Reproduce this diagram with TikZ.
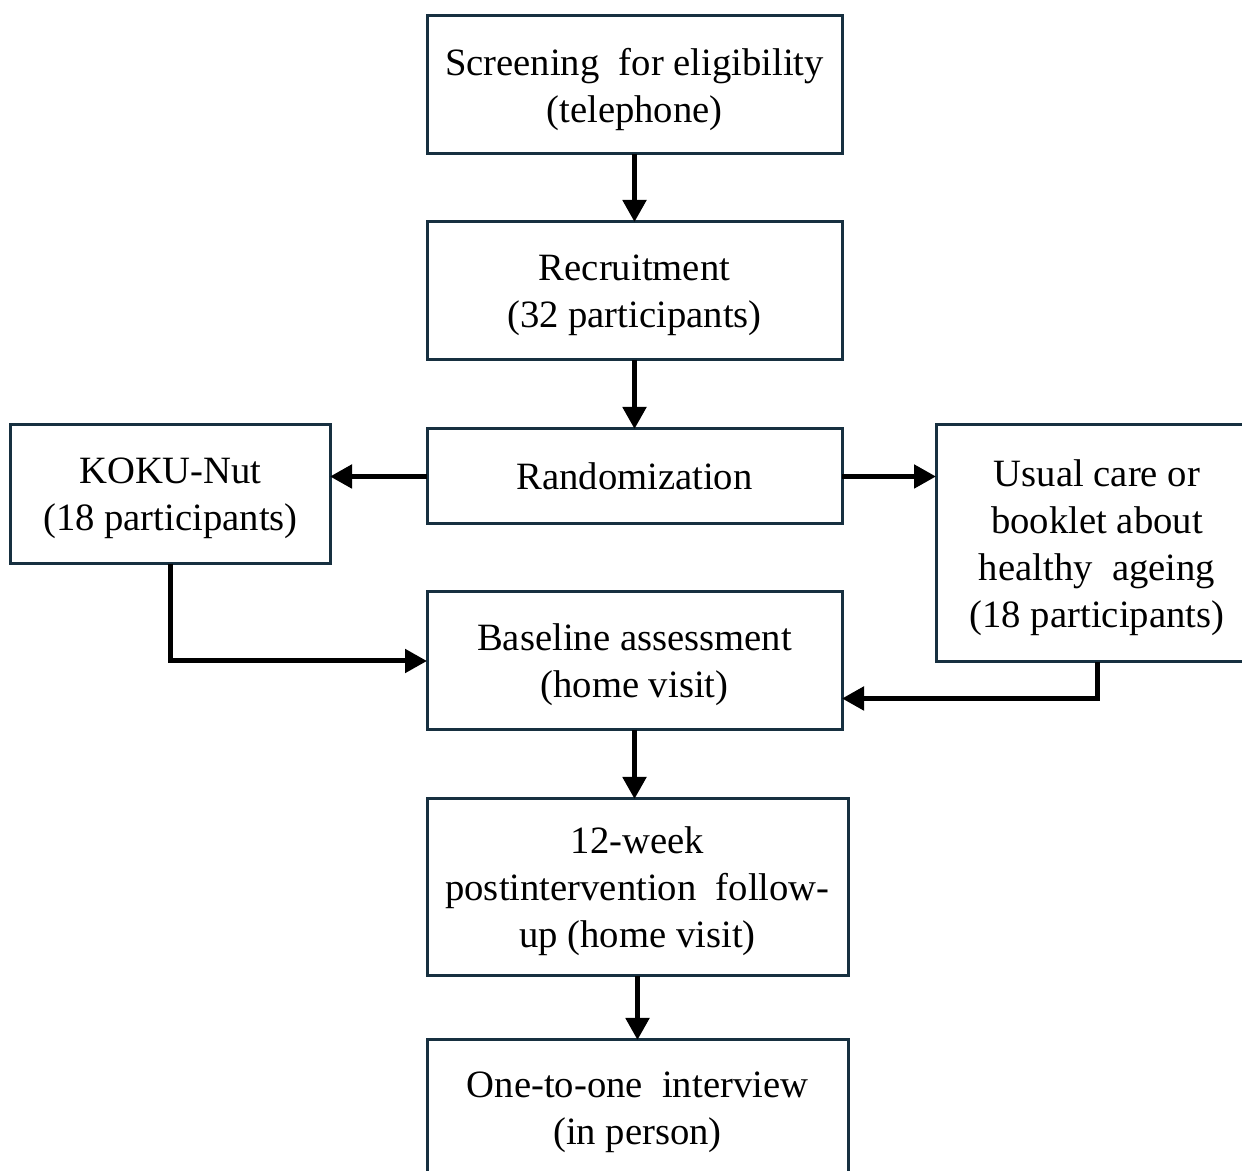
\documentclass[tikz,border=0pt]{standalone}
\usepackage{fontspec}
\setmainfont{Liberation Serif}
\usetikzlibrary{positioning,arrows.meta}

\definecolor{boxline}{RGB}{23,48,64}

\begin{document}
\begin{tikzpicture}[
        node distance=1.36cm,
        box/.style={draw=boxline, line width=0.06cm, align=center, outer sep=0pt, text depth=0pt, font=\fontsize{22}{26.7}\selectfont, minimum width=8.3cm, minimum height=2.76cm},
        link/.style={-{Triangle[length=0.44cm,width=0.46cm]}, line width=0.1cm}
    ]
        \useasboundingbox (0,0) rectangle (24.84,-23.42);

        % Nodes
        \node (screen) [box] at (12.69,-1.70) {Screening\ \ for eligibility\\(telephone)};
        \node (recruit) [box, below=of screen] {Recruitment\\(32 participants)};
        \node (random) [box, below=1.38cm of recruit, minimum height=1.9cm] {Randomization};
        \node (koku) [box, below left=-0.08cm and 1.94cm of random.north west, minimum width=6.38cm, minimum height=2.78cm] {KOKU-Nut\\(18 participants)};
        \node (usual) [box, below right=-0.08cm and 1.88cm of random.north east, minimum width=6.44cm, minimum height=4.74cm] {Usual care or\\booklet about\\healthy\ \ ageing\\(18 participants)};
        \node (baseline) [box, below=of random] {Baseline assessment\\(home visit)};
        \node (week) [box, below=1.38cm of baseline.south west, anchor=north west, minimum width=8.42cm, minimum height=3.54cm] {12-week\\postintervention\ \ follow-\\up (home visit)};
        \node (interview) [box, below=1.28cm of week, minimum width=8.42cm, minimum height=2.74cm] {One-to-one\ \ interview\\(in person)};
        \coordinate (usual_in) at ([yshift=-0.75cm]baseline.east);

        % Arrows
        \draw[link] (screen) -- (recruit);
        \draw[link] (recruit) -- (random);
        \draw[link] (random.west) -- (random.west -| koku.east);
        \draw[link] (random.east) -- (random.east -| usual.west);
        \draw[link] (koku.south) |- (baseline.west);
        \draw[link] (usual.south) |- (usual_in);
        \draw[link] (baseline.south) -- (baseline.south |- week.north);
        \draw[link] (week) -- (interview);
\end{tikzpicture}
\end{document}
